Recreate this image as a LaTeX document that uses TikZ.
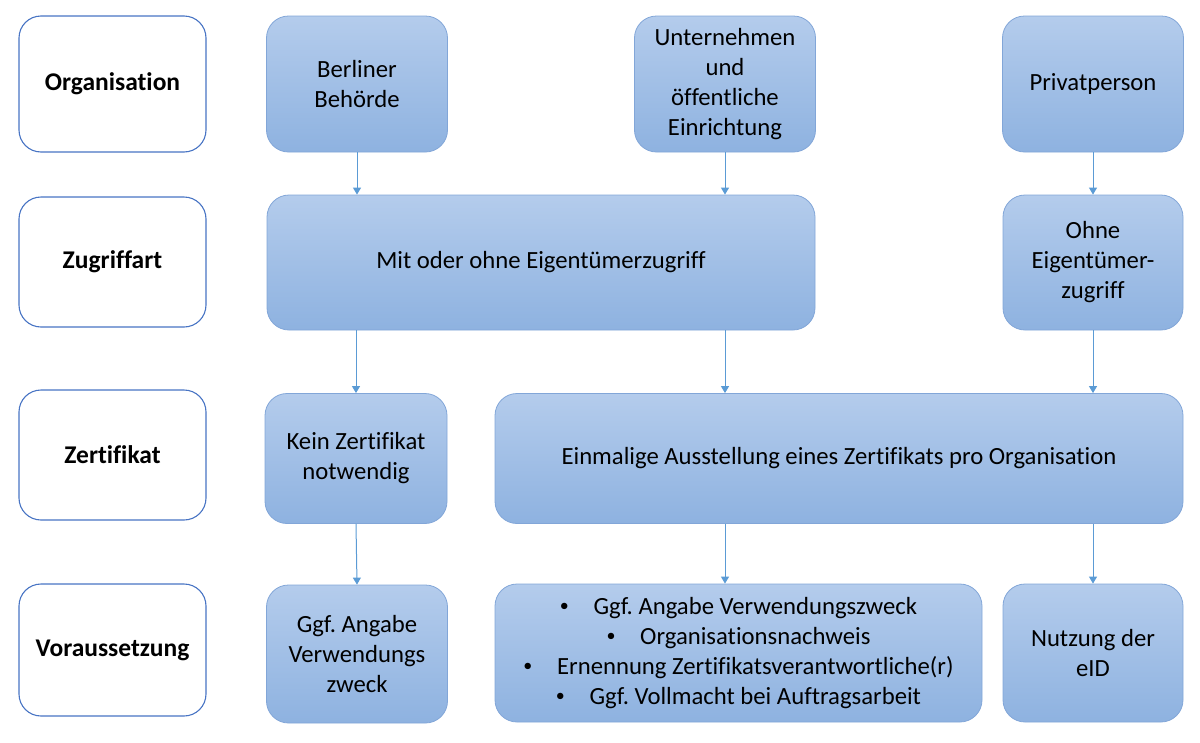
\documentclass[tikz,border=0pt]{standalone}
\usepackage{fontspec}
\setmainfont{Carlito}[Ligatures=NoCommon]
\usetikzlibrary{arrows.meta}
\definecolor{fillTop}{RGB}{180,204,236}
\definecolor{fillBot}{RGB}{142,178,224}
\definecolor{edgeBlue}{RGB}{130,166,216}
\definecolor{labEdge}{RGB}{72,116,196}
\definecolor{arrBlue}{RGB}{91,155,213}
\newcommand{\bul}{\raisebox{2.5pt}{\fontsize{18}{18}\selectfont\textbullet}\hspace{1.0em}}
\begin{document}
\frenchspacing
\begin{tikzpicture}[x=1pt,y=-1pt,
  bluebox/.style={draw=edgeBlue, line width=0.8pt, rounded corners=22pt,
    top color=fillTop, bottom color=fillBot, align=center, inner sep=0pt,
    font=\fontsize{24.7}{30}\selectfont\frenchspacing, text=black},
  labbox/.style={draw=labEdge, line width=1.1pt, rounded corners=22pt,
    fill=white, align=center, inner sep=0pt, minimum width=187pt,
    font=\fontsize{25.5}{30}\selectfont\bfseries, text=black},
  conn/.style={draw=arrBlue, line width=1pt, -{Triangle[width=8pt,length=7pt]}}]
\useasboundingbox (0,0) rectangle (1200,742);
% left labels
\node[labbox, minimum height=136pt] (lab1) at (112.5,84) {Organisation};
\node[labbox, minimum height=130pt] (lab2) at (112.5,262) {Zugriffart};
\node[labbox, minimum height=130pt] (lab3) at (112.5,455) {Zertifikat};
\node[labbox, minimum height=132pt] (lab4) at (112.5,650) {Voraussetzung};
% row 1
\node[bluebox, minimum width=181pt, minimum height=136pt] (berlin) at (357,84) {Berliner\\Behörde};
\node[bluebox, minimum width=181pt, minimum height=136pt] (unter) at (725,84) {Unternehmen\\und\\öffentliche\\Einrichtung};
\node[bluebox, minimum width=181pt, minimum height=136pt] (priv) at (1093,84) {Privatperson};
% row 2
\node[bluebox, minimum width=548pt, minimum height=135pt] (mit) at (541,262.5) {Mit oder ohne Eigentümerzugriff};
\node[bluebox, minimum width=180pt, minimum height=135pt] (ohne) at (1093,262.5) {Ohne\\Eigentümer-\\zugriff};
% row 3
\node[bluebox, minimum width=182pt, minimum height=130pt] (kein) at (356,458.5) {Kein Zertifikat\\notwendig};
\node[bluebox, minimum width=688pt, minimum height=130pt] (einm) at (839,458.5) {Einmalige Ausstellung eines Zertifikats pro Organisation};
% row 4
\node[bluebox, minimum width=181pt, minimum height=138pt] (ggf) at (357,654) {Ggf. Angabe\\Verwendungs\\zweck};
\node[bluebox, minimum width=487pt, minimum height=138pt] (bull) at (738.5,653) {\bul Ggf. Angabe Verwendungszweck\\\bul Organisationsnachweis\\\bul Ernennung Zertifikatsverantwortliche(r)\\\bul Ggf. Vollmacht bei Auftragsarbeit};
\node[bluebox, minimum width=180pt, minimum height=138pt] (nutz) at (1093,653) {Nutzung der\\eID};
% connectors
\draw[conn] (berlin.south) -- (berlin.south |- mit.north);
\draw[conn] (unter.south) -- (unter.south |- mit.north);
\draw[conn] (priv.south) -- (ohne.north);
\draw[conn] (kein.north |- mit.south) -- (kein.north);
\draw[conn] (unter.south |- mit.south) -- (unter.south |- einm.north);
\draw[conn] (ohne.south) -- (ohne.south |- einm.north);
\draw[conn] (kein.south) -- (ggf.north);
\draw[conn] (unter.south |- einm.south) -- (unter.south |- bull.north);
\draw[conn] (nutz.north |- einm.south) -- (nutz.north);
\end{tikzpicture}
\end{document}
